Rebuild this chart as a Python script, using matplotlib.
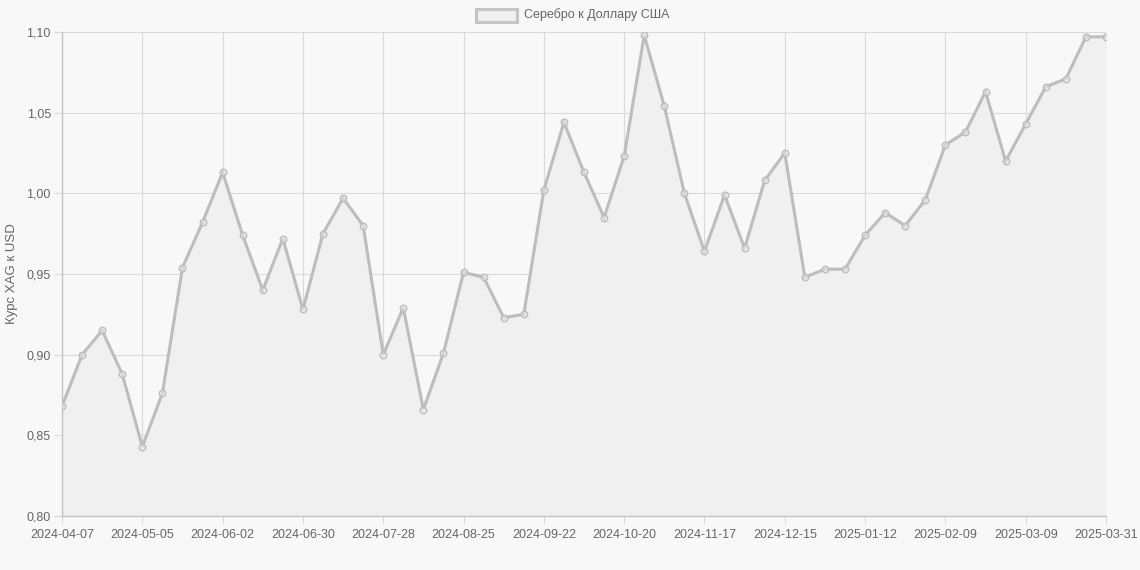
import matplotlib
matplotlib.use("Agg")
import matplotlib.pyplot as plt
from matplotlib.patches import Rectangle
import numpy as np
import datetime as dt

# ---- data ----
start = dt.date(2024, 4, 7)
dates = [(start + dt.timedelta(days=7 * i)).isoformat() for i in range(52)] + ["2025-03-31"]
values = [0.868, 0.900, 0.915, 0.888, 0.843, 0.876, 0.954, 0.982, 1.013, 0.974,
          0.940, 0.972, 0.928, 0.975, 0.997, 0.980, 0.900, 0.929, 0.866, 0.901,
          0.951, 0.948, 0.923, 0.925, 1.002, 1.044, 1.013, 0.985, 1.023, 1.098,
          1.054, 1.000, 0.964, 0.999, 0.966, 1.008, 1.025, 0.948, 0.953, 0.953,
          0.974, 0.988, 0.980, 0.996, 1.030, 1.038, 1.063, 1.020, 1.043, 1.066,
          1.071, 1.097, 1.097]
series_label = "Серебро к Доллару США"
y_label = "Курс XAG к USD"
y_ticks = [0.80, 0.85, 0.90, 0.95, 1.00, 1.05, 1.10]

# ---- style ----
plt.rcParams['font.family'] = ['Liberation Sans', 'DejaVu Sans']
BG = "#f8f8f8"
LINE = "#bdbdbd"
FILL = "#f0f0f0"
GRID = "#dadada"
TXT = "#666666"

W, H = 1140, 570
fig = plt.figure(figsize=(W / 100, H / 100), dpi=100, facecolor=BG)
left, right, top, bottom = 62, 1106, 32, 516
ax = fig.add_axes([left / W, 1 - bottom / H, (right - left) / W, (bottom - top) / H])
ax.set_facecolor(BG)

x = np.arange(len(values))
ax.fill_between(x, 0.80, values, color=FILL, zorder=1, lw=0)
ax.plot(x, values, color=LINE, lw=2.2, zorder=3, solid_joinstyle='miter')
ax.scatter(x, values, s=22, facecolor=(0.9, 0.9, 0.9, 0.6), edgecolor=LINE, lw=1.0, zorder=4)

ax.set_xlim(0, len(values) - 1)
ax.set_ylim(0.80, 1.10)

tick_idx = list(range(0, 49, 4)) + [len(values) - 1]
ax.set_xticks(tick_idx)
ax.set_xticklabels([dates[i] for i in tick_idx])
ax.set_yticks(y_ticks)
ax.set_yticklabels([f"{v:.2f}".replace(".", ",") for v in y_ticks])

ax.grid(True, color=GRID, lw=0.8, zorder=0)
ax.set_axisbelow(True)
for s in ["top", "right"]:
    ax.spines[s].set_visible(False)
for s in ["left", "bottom"]:
    ax.spines[s].set_color("#c4c4c4")
    ax.spines[s].set_linewidth(1.0)
ax.tick_params(axis='both', colors=GRID, labelcolor=TXT, labelsize=9, length=6, width=0.8)
ax.tick_params(axis='x', pad=3)
ax.tick_params(axis='y', pad=2)

fig.text(12 / W, 1 - 274 / H, y_label, rotation=90, ha='center', va='center',
         color=TXT, fontsize=9.5)

# legend (Chart.js style)
fig.patches.append(Rectangle((476 / W, 1 - 21.5 / H), 41 / W, 13 / H,
                             transform=fig.transFigure, facecolor=FILL,
                             edgecolor="#c4c4c4", lw=2.2))
fig.text(524 / W, 1 - 15 / H, series_label, ha='left', va='center', color=TXT, fontsize=9)

fig.savefig("out.png", dpi=100, facecolor=BG)
